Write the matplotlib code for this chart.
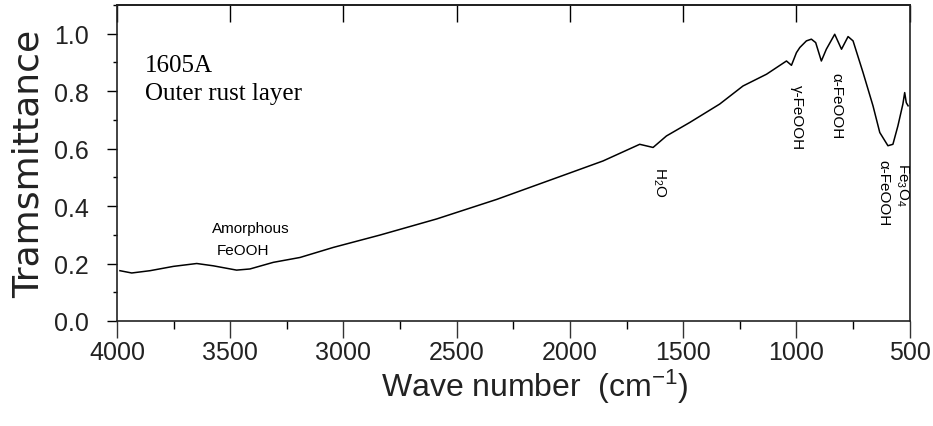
import matplotlib
matplotlib.use("Agg")
import matplotlib.pyplot as plt
from matplotlib.ticker import MultipleLocator, NullLocator

plt.rcParams["mathtext.fontset"] = "custom"
plt.rcParams["mathtext.rm"] = "Liberation Sans"
plt.rcParams["mathtext.it"] = "Liberation Sans"
plt.rcParams["mathtext.default"] = "rm"

# spectrum (wave number in cm-1, transmittance)
wave = [3987, 3935, 3854, 3751, 3648, 3575, 3472, 3413, 3310, 3192, 3045, 2839,
        2589, 2324, 2001, 1854, 1692, 1633, 1574, 1471, 1339, 1236, 1132, 1044,
        1022, 1000, 985, 956, 934, 915, 890, 868, 831, 801, 772, 750, 706, 662,
        632, 596, 574, 552, 530, 522, 515, 507]
trans = [0.175, 0.167, 0.175, 0.190, 0.200, 0.192, 0.177, 0.181, 0.204, 0.221,
         0.256, 0.299, 0.355, 0.423, 0.515, 0.557, 0.615, 0.604, 0.644, 0.691,
         0.755, 0.818, 0.859, 0.905, 0.890, 0.934, 0.952, 0.975, 0.981, 0.969,
         0.905, 0.946, 0.998, 0.946, 0.990, 0.975, 0.865, 0.749, 0.656, 0.610,
         0.615, 0.679, 0.755, 0.795, 0.760, 0.749]

xticks = [4000, 3500, 3000, 2500, 2000, 1500, 1000, 500]
yticks = [0.0, 0.2, 0.4, 0.6, 0.8, 1.0]

fig = plt.figure(figsize=(9.33, 4.27), dpi=100)
ax = fig.add_axes([0.1254, 0.246, 0.8496, 0.740])

ax.plot(wave, trans, color="black", linewidth=1.1)

ax.set_xlim(4000, 500)
ax.set_ylim(0, 1.1)
ax.set_xticks(xticks)
ax.set_yticks(yticks)
ax.set_xticklabels([str(t) for t in xticks], family="Liberation Sans", fontsize=18)
ax.set_yticklabels(["%.1f" % t for t in yticks], family="Liberation Sans", fontsize=18)
ax.xaxis.set_minor_locator(MultipleLocator(250))
ax.yaxis.set_minor_locator(MultipleLocator(0.1))

ax.tick_params(axis="x", which="major", direction="out", length=12, width=1,
               pad=2, top=False, color="#333333", labelcolor="#222222")
ax.tick_params(axis="x", which="minor", direction="out", length=6, width=1, top=False)
ax.tick_params(axis="y", which="major", direction="out", length=7, width=1,
               pad=13, right=False, labelcolor="#222222")
ax.tick_params(axis="y", which="minor", direction="out", length=3, width=1, right=False)

# top spine carries inward major ticks only
top = ax.secondary_xaxis("top")
top.set_xticks(xticks)
top.xaxis.set_minor_locator(NullLocator())
top.tick_params(direction="in", length=12, width=1, labeltop=False)

for s in ax.spines.values():
    s.set_linewidth(1.2)
    s.set_color("#222222")
top.spines["top"].set_linewidth(1.2)

ax.set_ylabel("Tramsmittance", family="DejaVu Sans", fontsize=26,
              color="#222222", labelpad=6)
ax.set_xlabel("Wave number  (cm$^{-1}$)", family="Liberation Sans",
              fontsize=23, color="#222222", labelpad=4)
ax.xaxis.set_label_coords(0.527, -0.145)

ax.text(3876, 0.869, "1605A", family="Liberation Serif", fontsize=18)
ax.text(3876, 0.772, "Outer rust layer", family="Liberation Serif", fontsize=18)

small = dict(family="Liberation Sans", fontsize=11, ha="center", va="center")
ax.text(3409, 0.323, "Amorphous", **small)
ax.text(3444, 0.247, "FeOOH", **small)

rot = dict(family="Liberation Sans", fontsize=11, ha="center", va="top", rotation=-90)
ax.text(1608, 0.539, "H$_2$O", **rot)
ax.text(999, 0.824, "\u03b3-FeOOH", **rot)
ax.text(822, 0.866, "\u03b1-FeOOH", **rot)
ax.text(535, 0.553, "Fe$_3$O$_4$", **rot)
ax.text(618, 0.563, "\u03b1-FeOOH", **rot)

fig.savefig("out.png", dpi=100)
